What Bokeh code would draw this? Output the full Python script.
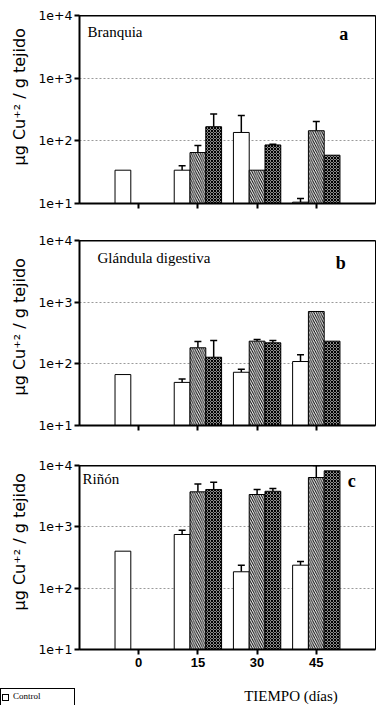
import math
from bokeh.plotting import figure
from bokeh.layouts import column
from bokeh.models import (Range1d, FixedTicker, CustomJSTickFormatter, ColumnDataSource,
                          Whisker, TeeHead, Label, Span, Title, Div)
from bokeh.embed import file_html
from bokeh.resources import INLINE

nan = float("nan")

# ---------------- data ----------------
days = [0, 15, 30, 45]
x_tick_labels = {0: "0", 15: "15", 30: "30", 45: "45"}
y_ticks = [10, 100, 1000, 10000]
panel_names = ["Branquia", "Glándula digestiva", "Riñón"]
panel_letters = ["a", "b", "c"]
series_names = ["Control", "Tratamiento 1", "Tratamiento 2"]
y_label = "µg Cu⁺² / g tejido"
x_label = "TIEMPO (días)"

# Branquia (a)
control_a = [34, 34, 136, 10.5]
control_a_top = [34, 40, 253, 12]
hatched_a = [nan, 65, 34, 145]
hatched_a_top = [nan, 84, 34, 204]
cross_a = [nan, 168, 86, 59]
cross_a_top = [nan, 268, 88, 59]

# Glándula digestiva (b)
control_b = [67, 50, 73, 109]
control_b_top = [67, 57, 82, 140]
hatched_b = [nan, 182, 233, 706]
hatched_b_top = [nan, 230, 248, 706]
cross_b = [nan, 128, 219, 233]
cross_b_top = [nan, 240, 240, 233]

# Riñón (c)
control_c = [401, 750, 185, 237]
control_c_top = [401, 883, 237, 272]
hatched_c = [nan, 3720, 3365, 6370]
hatched_c_top = [nan, 4970, 4065, 10000]
cross_c = [nan, 4065, 3800, 8180]
cross_c_top = [nan, 5350, 4200, 8180]

panels_data = [
    [(control_a, control_a_top), (hatched_a, hatched_a_top), (cross_a, cross_a_top)],
    [(control_b, control_b_top), (hatched_b, hatched_b_top), (cross_b, cross_b_top)],
    [(control_c, control_c_top), (hatched_c, hatched_c_top), (cross_c, cross_c_top)],
]

# ---------------- styling ----------------
offsets = [-4, 0, 4]
bar_w = 4
styles = [
    dict(fill_color="white"),
    dict(fill_color="white", hatch_pattern="\\", hatch_color="black", hatch_scale=4.5, hatch_weight=1),
    dict(fill_color="#8a8a8a", hatch_pattern="x", hatch_color="black", hatch_scale=3, hatch_weight=1),
]
fig_heights = [233, 225, 217]
top_borders = [15, 7, 7]
bottom_borders = [30, 33, 26]
name_pos = [(-12.97, 10 ** 3.73), (-10.44, 10 ** 3.72), (-14.24, 10 ** 3.78)]
letter_pos = [(50.8, 10 ** 3.70), (49.9, 10 ** 3.64), (53.0, 10 ** 3.74)]
ylabel_offsets = [38, 30, 39]

figs = []
for i in range(3):
    last = i == 2
    p = figure(width=377, height=fig_heights[i],
               x_range=Range1d(-15, 60), y_range=Range1d(10, 10000),
               y_axis_type="log", output_backend="svg", toolbar_location=None,
               min_border_left=79, min_border_right=2, min_border_top=top_borders[i],
               min_border_bottom=bottom_borders[i])
    p.outline_line_color = "black"
    p.outline_line_width = 1
    p.background_fill_color = "white"
    p.border_fill_color = "white"
    p.xgrid.visible = False
    p.ygrid.ticker = FixedTicker(ticks=[100, 1000])
    p.ygrid.grid_line_color = "#9a9a9a"
    p.ygrid.grid_line_dash = "2 2"
    p.ygrid.grid_line_width = 1

    # y axis
    p.yaxis.ticker = FixedTicker(ticks=y_ticks)
    p.yaxis.formatter = CustomJSTickFormatter(code="return '1e+' + Math.round(Math.log10(tick));")
    p.yaxis.axis_line_width = 2
    p.yaxis.major_tick_line_width = 2
    p.yaxis.major_tick_in = 0
    p.yaxis.major_tick_out = 5
    p.yaxis.minor_tick_line_color = None
    p.yaxis.major_label_standoff = 2
    p.yaxis.major_label_text_font = "DejaVu Sans"
    p.yaxis.major_label_text_font_size = "12.5px"
    p.yaxis.major_label_text_color = "black"

    # x axis
    p.xaxis.axis_line_width = 2
    p.xaxis.major_tick_line_width = 2
    p.xaxis.major_tick_in = 0
    p.xaxis.major_tick_out = 5
    p.xaxis.minor_tick_line_width = 2
    p.xaxis.minor_tick_line_color = "black"
    p.xaxis.minor_tick_in = 0
    p.xaxis.minor_tick_out = 5
    if last:
        p.xaxis.ticker = FixedTicker(ticks=days)
        p.xaxis.major_label_overrides = x_tick_labels
        p.xaxis.major_label_standoff = 3
        p.xaxis.major_label_text_font = "Liberation Sans"
        p.xaxis.major_label_text_font_style = "bold"
        p.xaxis.major_label_text_font_size = "13px"
        p.xaxis.major_label_text_color = "black"
    else:
        # tick marks only, no labels
        p.xaxis.ticker = FixedTicker(ticks=[], minor_ticks=days)

    # top border thicker
    p.add_layout(Span(location=10000, dimension="width", line_color="black", line_width=2))

    for s, (vals, tops) in enumerate(panels_data[i]):
        xs = [d + offsets[s] for d in days]
        src = ColumnDataSource(dict(x=xs, top=vals))
        p.vbar(x="x", top="top", bottom=10, width=bar_w, source=src,
               line_color="black", line_width=1, **styles[s])
        wx, wl, wu = [], [], []
        for x, v, t in zip(xs, vals, tops):
            if not math.isnan(v) and t > v * 1.02:
                wx.append(x); wl.append(v); wu.append(t)
        if wx:
            wsrc = ColumnDataSource(dict(x=wx, lower=wl, upper=wu))
            p.add_layout(Whisker(base="x", lower="lower", upper="upper", source=wsrc,
                                 dimension="height", line_width=1.5, line_color="black",
                                 upper_head=TeeHead(size=7, line_width=1.5, line_color="black"),
                                 lower_head=None))

    p.add_layout(Label(x=name_pos[i][0], y=name_pos[i][1], text=panel_names[i],
                       text_font="Liberation Serif", text_font_size="15px",
                       text_baseline="alphabetic", text_align="left", text_color="black"))
    p.add_layout(Label(x=letter_pos[i][0], y=letter_pos[i][1], text=panel_letters[i],
                       text_font="Liberation Serif", text_font_size="18px", text_font_style="bold",
                       text_baseline="alphabetic", text_align="left", text_color="black"))

    p.add_layout(Title(text=y_label, align="left", vertical_align="top",
                       offset=ylabel_offsets[i], standoff=10,
                       text_font="DejaVu Sans", text_font_size="16px",
                       text_font_style="normal", text_color="black"), "left")
    figs.append(p)

# bottom strip: x-axis title and the (cut-off) legend box
strip_html = (
    '<div style="position:relative;width:377px;height:30px;overflow:hidden;'
    'font-family:\'Liberation Serif\';color:black;">'
    '<div style="position:absolute;left:0px;top:13px;width:75px;height:22px;'
    'border:1.5px solid black;box-sizing:border-box;background:white;"></div>'
    '<div style="position:absolute;left:2px;top:19px;width:7px;height:7px;'
    'border:1px solid black;background:white;"></div>'
    f'<div style="position:absolute;left:13px;top:16px;font-size:9px;line-height:11px;">{series_names[0]}</div>'
    '<div style="position:absolute;left:191px;top:13px;width:200px;text-align:center;'
    f'font-size:15px;line-height:17px;">{x_label}</div>'
    '</div>'
)
strip = Div(text=strip_html, width=377, height=30, margin=0)

layout = column(*figs, strip, spacing=0)
open("out.html", "w").write(file_html(layout, INLINE))
